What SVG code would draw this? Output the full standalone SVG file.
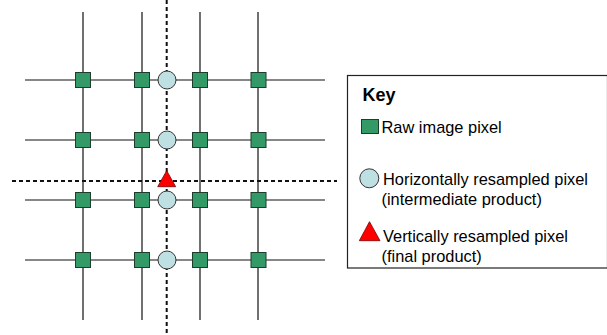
<svg xmlns="http://www.w3.org/2000/svg" width="607" height="335" viewBox="0 0 607 335">
  <style>
    .grid { stroke: #111; stroke-width: 1.2; fill: none; }
    .scan { stroke: #111; stroke-width: 2; stroke-dasharray: 4 3; fill: none; }
    .raw { fill: #339966; stroke: #1d3d2d; stroke-width: 1; }
    .hres { fill: #bfe0e3; stroke: #333; stroke-width: 1; }
    .vres { fill: #ff0000; stroke: #7a0000; stroke-width: 0.8; }
    .key { fill: #fff; stroke: #222; stroke-width: 1.2; }
    text { font-family: "Liberation Sans", Arial, sans-serif; font-size: 16.4px; fill: #000; }
    .title { font-weight: bold; font-size: 18px; }
  </style>
  <defs>
    <rect id="sq" class="raw" x="-7.5" y="-7.5" width="15" height="15"/>
    <circle id="ci" class="hres" r="9"/>
  </defs>

  <rect width="607" height="335" fill="#fff"/>

  <!-- pixel grid and resampling scan lines -->
  <g id="connectors">
    <line class="grid" x1="83" y1="12" x2="83" y2="320"/>
    <line class="grid" x1="142" y1="12" x2="142" y2="320"/>
    <line class="grid" x1="200" y1="12" x2="200" y2="320"/>
    <line class="grid" x1="258" y1="12" x2="258" y2="320"/>
    <line class="grid" x1="25" y1="80" x2="325" y2="80"/>
    <line class="grid" x1="25" y1="140" x2="325" y2="140"/>
    <line class="grid" x1="25" y1="200" x2="325" y2="200"/>
    <line class="grid" x1="25" y1="260" x2="325" y2="260"/>
    <line class="scan" x1="166.7" y1="0" x2="166.7" y2="335"/>
    <line class="scan" x1="12" y1="181" x2="337" y2="181"/>
  </g>

  <!-- raw image pixels -->
  <g id="raw-r1c1"><use href="#sq" x="83" y="80"/></g>
  <g id="raw-r1c2"><use href="#sq" x="142" y="80"/></g>
  <g id="raw-r1c3"><use href="#sq" x="200" y="80"/></g>
  <g id="raw-r1c4"><use href="#sq" x="258.5" y="80"/></g>
  <g id="raw-r2c1"><use href="#sq" x="83" y="140"/></g>
  <g id="raw-r2c2"><use href="#sq" x="142" y="140"/></g>
  <g id="raw-r2c3"><use href="#sq" x="200" y="140"/></g>
  <g id="raw-r2c4"><use href="#sq" x="258.5" y="140"/></g>
  <g id="raw-r3c1"><use href="#sq" x="83" y="200"/></g>
  <g id="raw-r3c2"><use href="#sq" x="142" y="200"/></g>
  <g id="raw-r3c3"><use href="#sq" x="200" y="200"/></g>
  <g id="raw-r3c4"><use href="#sq" x="258.5" y="200"/></g>
  <g id="raw-r4c1"><use href="#sq" x="83" y="260"/></g>
  <g id="raw-r4c2"><use href="#sq" x="142" y="260"/></g>
  <g id="raw-r4c3"><use href="#sq" x="200" y="260"/></g>
  <g id="raw-r4c4"><use href="#sq" x="258.5" y="260"/></g>

  <!-- horizontally resampled pixels -->
  <g id="hres-r1"><use href="#ci" x="167" y="80"/></g>
  <g id="hres-r2"><use href="#ci" x="167" y="140"/></g>
  <g id="hres-r3"><use href="#ci" x="167" y="200"/></g>
  <g id="hres-r4"><use href="#ci" x="167" y="260"/></g>

  <!-- vertically resampled pixel -->
  <g id="vres">
    <polygon class="vres" points="166.7,170.7 175.7,186.7 157.7,186.7"/>
  </g>

  <!-- legend -->
  <g id="key">
    <rect class="key" x="347.5" y="75.5" width="260" height="192.5"/>
    <text class="title" x="362.5" y="100.5">Key</text>
    <rect class="raw" x="361.5" y="119.5" width="17" height="14"/>
    <text x="381.5" y="132.5">Raw image pixel</text>
    <circle class="hres" cx="369.3" cy="178.3" r="9.5"/>
    <text x="383" y="185">Horizontally resampled pixel</text>
    <text x="381.5" y="204.5">(intermediate product)</text>
    <polygon class="vres" points="369.5,221.7 380,240.7 359.3,240.7"/>
    <text x="383" y="241.7">Vertically resampled pixel</text>
    <text x="381.5" y="261.5">(final product)</text>
  </g>
</svg>
